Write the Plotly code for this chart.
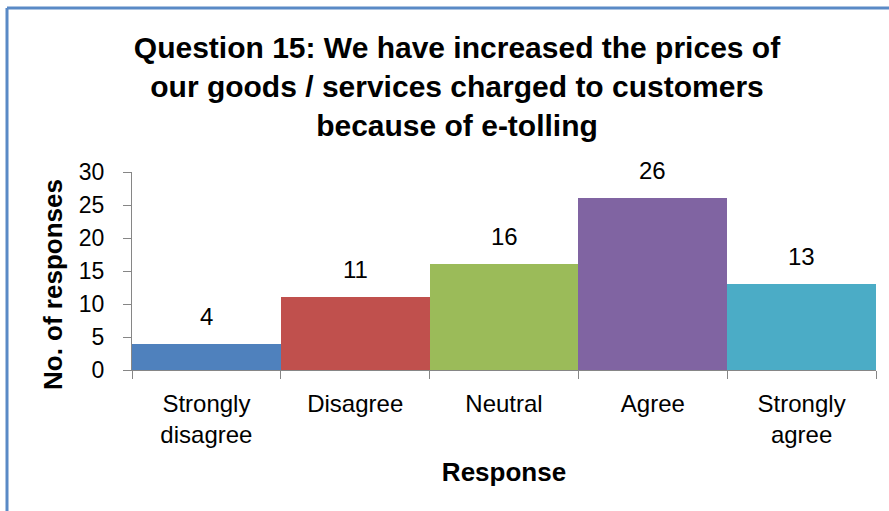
import plotly.graph_objects as go

# Survey responses to Question 15
categories = ["Strongly<br>disagree", "Disagree", "Neutral", "Agree", "Strongly<br>agree"]
responses = [4, 11, 16, 26, 13]
bar_colors = ["#4F81BD", "#C0504D", "#9BBB59", "#8064A2", "#4BACC6"]
y_ticks = [0, 5, 10, 15, 20, 25, 30]

W, H = 889, 511
L, R, T, B = 132, 13, 172, 141
pw, ph = W - L - R, H - T - B

def px_x(px):
    return (px - L) / pw

def px_y(py):
    return (H - B - py) / ph

fig = go.Figure(
    go.Bar(
        x=categories,
        y=responses,
        marker=dict(color=bar_colors, line=dict(width=0)),
        hoverinfo="x+y",
    )
)

# Value labels above each bar
for cat, val in zip(categories, responses):
    fig.add_annotation(
        x=cat, y=val, text=str(val), showarrow=False,
        yanchor="bottom", yshift=12,
        font=dict(family="Liberation Sans, Arial", size=24, color="#000000"),
    )

# Vertical axis title
fig.add_annotation(
    text="<b>No. of responses</b>", textangle=-90, showarrow=False,
    xref="paper", yref="paper", x=px_x(53), y=px_y(285),
    xanchor="center", yanchor="middle",
    font=dict(family="Liberation Sans, Arial", size=26, color="#000000"),
)

# Frame around the chart area
border = "#5A8AC6"
fig.add_shape(type="line", xref="paper", yref="paper",
              x0=px_x(7), x1=px_x(7), y0=px_y(8), y1=px_y(520),
              line=dict(color=border, width=3))
fig.add_shape(type="line", xref="paper", yref="paper",
              x0=px_x(7), x1=px_x(900), y0=px_y(8), y1=px_y(8),
              line=dict(color=border, width=3))

fig.update_layout(
    width=W, height=H,
    margin=dict(l=L, r=R, t=T, b=B),
    paper_bgcolor="white", plot_bgcolor="white",
    bargap=0,
    showlegend=False,
    font=dict(family="Liberation Sans, Arial", color="#000000"),
    title=dict(
        text="<b>Question 15: We have increased the prices of<br>our goods / services charged to customers<br>because of e-tolling</b>",
        x=457 / W, xref="container", xanchor="center",
        y=1 - 58 / H, yref="container", yanchor="middle",
        font=dict(size=30, family="Liberation Sans, Arial", color="#000000"),
    ),
    xaxis=dict(
        type="category",
        showline=True, linecolor="#868686", linewidth=1,
        ticks="outside", ticklen=8, tickcolor="#868686",
        tickson="boundaries",
        ticklabelstandoff=12,
        tickfont=dict(size=24),
        title=dict(text="<b>Response</b>", font=dict(size=26), standoff=15),
        showgrid=False,
    ),
    yaxis=dict(
        range=[0, 30],
        tickvals=y_ticks,
        showline=True, linecolor="#868686", linewidth=1,
        ticks="outside", ticklen=8, tickcolor="#868686",
        ticklabelstandoff=14,
        tickfont=dict(size=23),
        showgrid=False, zeroline=False,
    ),
)

fig.write_html("out.html")
